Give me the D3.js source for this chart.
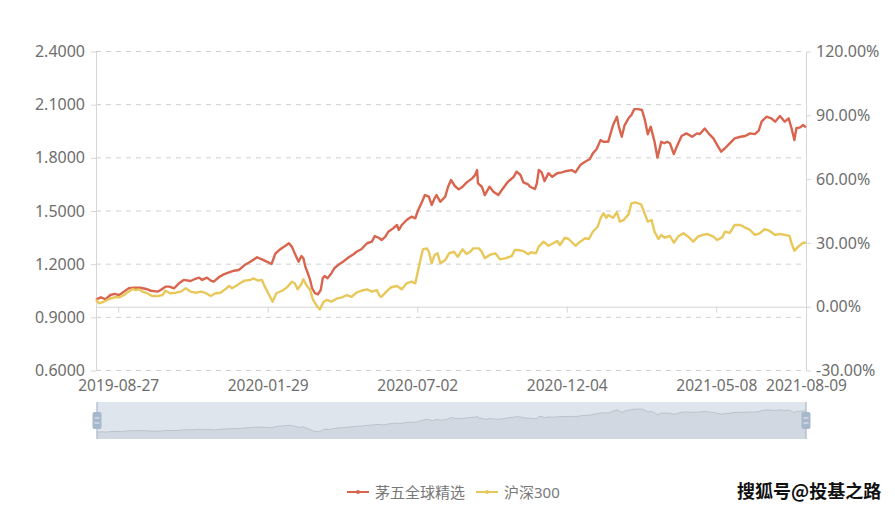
<!DOCTYPE html>
<html><head><meta charset="utf-8">
<script src="https://cdn.jsdelivr.net/npm/d3@7/dist/d3.min.js"></script>
<style>body{margin:0;background:#fff;overflow:hidden}</style>
</head><body>
<svg id="c" width="895" height="509"></svg>
<script>
const seriesNames = ["茅五全球精选", "沪深300"];
const seriesColors = ["#d9654f", "#e8c85a"];
const xDomain = ["2019-08-04", "2021-08-09"];
const xTickLabels = ["2019-08-27", "2020-01-29", "2020-07-02", "2020-12-04", "2021-05-08", "2021-08-09"];
const leftTicks = [0.6, 0.9, 1.2, 1.5, 1.8, 2.1, 2.4];
const rightTicks = [-30, 0, 30, 60, 90, 120];
const watermark = "搜狐号@投基之路";

const fundData = [
["2019-08-04",1.000],["2019-08-09",1.013],["2019-08-14",1.002],["2019-08-19",1.026],["2019-08-23",1.032],["2019-08-28",1.026],
["2019-09-02",1.045],["2019-09-07",1.064],["2019-09-12",1.067],["2019-09-19",1.067],["2019-09-25",1.060],["2019-09-30",1.050],
["2019-10-07",1.045],["2019-10-10",1.054],["2019-10-15",1.073],["2019-10-19",1.073],["2019-10-24",1.064],["2019-10-29",1.092],
["2019-11-03",1.111],["2019-11-10",1.105],["2019-11-14",1.115],["2019-11-19",1.124],["2019-11-22",1.111],["2019-11-27",1.124],
["2019-12-01",1.107],["2019-12-04",1.101],["2019-12-10",1.129],["2019-12-15",1.144],["2019-12-20",1.154],["2019-12-25",1.163],["2019-12-30",1.167],
["2020-01-05",1.195],["2020-01-11",1.214],["2020-01-18",1.239],["2020-01-23",1.227],["2020-01-28",1.214],
["2020-02-02",1.201],["2020-02-06",1.261],["2020-02-11",1.284],["2020-02-16",1.302],["2020-02-20",1.318],["2020-02-23",1.299],["2020-02-26",1.261],
["2020-03-01",1.214],["2020-03-04",1.246],["2020-03-06",1.233],["2020-03-08",1.186],["2020-03-10",1.157],["2020-03-13",1.111],["2020-03-15",1.064],
["2020-03-18",1.036],["2020-03-21",1.030],["2020-03-24",1.054],["2020-03-26",1.120],["2020-03-28",1.133],["2020-03-31",1.120],
["2020-04-04",1.148],["2020-04-07",1.177],["2020-04-11",1.195],["2020-04-16",1.214],["2020-04-22",1.239],["2020-04-27",1.256],["2020-04-30",1.270],
["2020-05-05",1.284],["2020-05-11",1.318],["2020-05-16",1.327],["2020-05-19",1.359],["2020-05-24",1.346],["2020-05-26",1.336],["2020-05-30",1.355],
["2020-06-02",1.383],["2020-06-07",1.402],["2020-06-11",1.421],["2020-06-13",1.393],["2020-06-16",1.421],["2020-06-21",1.449],["2020-06-26",1.468],["2020-06-30",1.459],
["2020-07-03",1.506],["2020-07-07",1.552],["2020-07-10",1.590],["2020-07-14",1.581],["2020-07-17",1.534],["2020-07-20",1.572],["2020-07-22",1.590],["2020-07-26",1.552],["2020-07-31",1.581],
["2020-08-03",1.637],["2020-08-06",1.675],["2020-08-10",1.641],["2020-08-14",1.622],["2020-08-18",1.637],["2020-08-22",1.660],["2020-08-28",1.684],["2020-08-31",1.703],
["2020-09-02",1.731],["2020-09-03",1.656],["2020-09-07",1.637],["2020-09-10",1.590],["2020-09-15",1.637],["2020-09-19",1.609],["2020-09-24",1.590],["2020-09-29",1.628],
["2020-10-04",1.665],["2020-10-10",1.693],["2020-10-13",1.722],["2020-10-17",1.703],["2020-10-20",1.662],["2020-10-25",1.650],["2020-10-27",1.637],
["2020-11-01",1.624],["2020-11-03",1.656],["2020-11-05",1.731],["2020-11-08",1.718],["2020-11-11",1.669],["2020-11-15",1.713],["2020-11-19",1.693],["2020-11-24",1.713],["2020-11-29",1.718],
["2020-12-04",1.726],["2020-12-09",1.731],["2020-12-13",1.718],["2020-12-18",1.759],["2020-12-23",1.778],["2020-12-28",1.793],["2020-12-31",1.825],
["2021-01-04",1.850],["2021-01-08",1.900],["2021-01-11",1.891],["2021-01-16",1.891],["2021-01-21",1.985],["2021-01-25",2.032],["2021-01-27",1.976],["2021-01-30",1.919],
["2021-02-02",1.985],["2021-02-06",2.023],["2021-02-09",2.042],["2021-02-12",2.075],["2021-02-16",2.075],["2021-02-20",2.070],["2021-02-23",2.013],["2021-02-26",1.933],
["2021-03-01",1.976],["2021-03-05",1.891],["2021-03-08",1.801],["2021-03-12",1.891],["2021-03-15",1.882],["2021-03-18",1.891],["2021-03-21",1.882],["2021-03-25",1.821],["2021-03-28",1.863],
["2021-04-02",1.923],["2021-04-07",1.938],["2021-04-13",1.919],["2021-04-18",1.938],["2021-04-21",1.934],["2021-04-26",1.966],["2021-04-30",1.938],
["2021-05-05",1.910],["2021-05-09",1.872],["2021-05-13",1.835],["2021-05-17",1.854],["2021-05-22",1.882],["2021-05-27",1.910],
["2021-06-02",1.919],["2021-06-07",1.923],["2021-06-12",1.938],["2021-06-17",1.934],["2021-06-21",1.953],["2021-06-24",2.004],["2021-06-29",2.032],
["2021-07-04",2.023],["2021-07-08",2.004],["2021-07-13",2.036],["2021-07-18",2.004],["2021-07-22",2.023],["2021-07-25",1.967],["2021-07-28",1.900],["2021-07-30",1.967],
["2021-08-03",1.972],["2021-08-06",1.985],["2021-08-09",1.972]
];

const csiData = [
["2019-08-04",1.000],["2019-08-07",0.979],["2019-08-12",0.988],["2019-08-17",1.002],["2019-08-23",1.013],["2019-08-28",1.013],
["2019-09-02",1.026],["2019-09-07",1.045],["2019-09-11",1.060],["2019-09-14",1.054],["2019-09-18",1.058],["2019-09-21",1.045],["2019-09-26",1.036],
["2019-10-01",1.020],["2019-10-07",1.020],["2019-10-12",1.026],["2019-10-15",1.050],["2019-10-20",1.036],["2019-10-26",1.039],["2019-10-31",1.045],
["2019-11-05",1.064],["2019-11-10",1.045],["2019-11-15",1.039],["2019-11-21",1.045],["2019-11-26",1.036],
["2019-12-01",1.020],["2019-12-06",1.036],["2019-12-11",1.039],["2019-12-16",1.058],["2019-12-20",1.077],["2019-12-23",1.064],["2019-12-27",1.077],["2019-12-30",1.088],
["2020-01-05",1.107],["2020-01-11",1.111],["2020-01-14",1.120],["2020-01-19",1.107],["2020-01-23",1.111],["2020-01-26",1.073],["2020-01-30",1.032],
["2020-02-03",0.988],["2020-02-07",1.036],["2020-02-13",1.050],["2020-02-18",1.069],["2020-02-23",1.101],["2020-02-26",1.092],["2020-02-29",1.058],
["2020-03-04",1.088],["2020-03-06",1.115],["2020-03-09",1.082],["2020-03-13",1.054],["2020-03-16",0.998],["2020-03-20",0.964],["2020-03-23",0.945],["2020-03-27",0.988],["2020-03-30",0.998],
["2020-04-04",0.988],["2020-04-10",1.007],["2020-04-15",1.013],["2020-04-20",1.026],["2020-04-25",1.016],["2020-04-30",1.039],
["2020-05-05",1.050],["2020-05-11",1.058],["2020-05-16",1.045],["2020-05-21",1.054],["2020-05-24",1.020],["2020-05-26",1.016],["2020-05-31",1.045],
["2020-06-05",1.070],["2020-06-11",1.077],["2020-06-16",1.058],["2020-06-21",1.092],["2020-06-26",1.101],["2020-06-30",1.092],
["2020-07-03",1.167],["2020-07-06",1.242],["2020-07-08",1.284],["2020-07-12",1.289],["2020-07-14",1.270],["2020-07-17",1.205],["2020-07-20",1.252],["2020-07-23",1.261],["2020-07-26",1.205],["2020-07-31",1.223],
["2020-08-04",1.261],["2020-08-09",1.270],["2020-08-13",1.242],["2020-08-18",1.284],["2020-08-22",1.257],["2020-08-26",1.270],["2020-08-29",1.289],
["2020-09-04",1.289],["2020-09-07",1.270],["2020-09-10",1.233],["2020-09-15",1.252],["2020-09-21",1.261],["2020-09-26",1.227],
["2020-10-01",1.233],["2020-10-08",1.246],["2020-10-11",1.280],["2020-10-15",1.280],["2020-10-20",1.274],["2020-10-25",1.256],["2020-10-28",1.267],
["2020-11-02",1.261],["2020-11-05",1.299],["2020-11-10",1.327],["2020-11-15",1.304],["2020-11-20",1.318],["2020-11-24",1.331],["2020-11-27",1.308],
["2020-12-02",1.349],["2020-12-06",1.342],["2020-12-13",1.304],["2020-12-18",1.327],["2020-12-23",1.346],["2020-12-27",1.342],["2020-12-31",1.383],
["2021-01-05",1.411],["2021-01-08",1.458],["2021-01-11",1.487],["2021-01-14",1.462],["2021-01-16",1.477],["2021-01-21",1.462],["2021-01-25",1.493],["2021-01-28",1.440],
["2021-02-01",1.449],["2021-02-06",1.481],["2021-02-09",1.543],["2021-02-13",1.549],["2021-02-19",1.538],["2021-02-22",1.496],["2021-02-26",1.440],
["2021-03-02",1.449],["2021-03-05",1.383],["2021-03-09",1.342],["2021-03-12",1.365],["2021-03-15",1.349],["2021-03-21",1.359],["2021-03-25",1.321],["2021-03-30",1.359],
["2021-04-04",1.374],["2021-04-09",1.355],["2021-04-14",1.327],["2021-04-19",1.355],["2021-04-24",1.365],["2021-04-29",1.370],
["2021-05-05",1.355],["2021-05-09",1.336],["2021-05-14",1.351],["2021-05-17",1.383],["2021-05-22",1.377],["2021-05-27",1.421],
["2021-06-02",1.421],["2021-06-07",1.406],["2021-06-12",1.393],["2021-06-17",1.365],["2021-06-22",1.374],["2021-06-27",1.397],
["2021-07-02",1.389],["2021-07-08",1.365],["2021-07-13",1.370],["2021-07-18",1.365],["2021-07-23",1.359],["2021-07-25",1.318],["2021-07-28",1.276],
["2021-08-01",1.299],["2021-08-06",1.321],["2021-08-09",1.321]
];

const parse = d3.timeParse("%Y-%m-%d");
const svg = d3.select("#c");
const FONT = "'Noto Sans', 'Noto Sans CJK SC', sans-serif";
const L = 96, R = 806, T = 51.5, B = 370.5;

const x = d3.scaleTime().domain(xDomain.map(parse)).range([L, R]);
const yL = d3.scaleLinear().domain([0.6, 2.4]).range([B, T]);
const yR = d3.scaleLinear().domain([-30, 120]).range([B, T]);

// grid
svg.append("g").selectAll("line").data(leftTicks).join("line")
  .attr("x1", L).attr("x2", R)
  .attr("y1", d => yL(d)).attr("y2", d => yL(d))
  .attr("stroke", "#cfcfcf").attr("stroke-width", 1).attr("stroke-dasharray", "5,5");

function styleAxis(g, size) {
  g.selectAll(".domain").attr("stroke", "#d6d6d6");
  g.selectAll(".tick line").attr("stroke", "#d6d6d6");
  g.selectAll("text").attr("fill", "#6e6e6e").style("font-size", (size || 16) + "px").style("font-family", FONT);
}

// left axis
svg.append("g").attr("transform", `translate(${L},0)`)
  .call(d3.axisLeft(yL).tickValues(leftTicks).tickFormat(d3.format(".4f")).tickSize(5).tickSizeOuter(0).tickPadding(6))
  .call(g => styleAxis(g, 16));

// right axis
svg.append("g").attr("transform", `translate(${R},0)`)
  .call(d3.axisRight(yR).tickValues(rightTicks).tickFormat(d => d.toFixed(2) + "%").tickSize(5).tickSizeOuter(0).tickPadding(5))
  .call(g => styleAxis(g, 16));

// x axis line on zero with ticks
const xTickDates = xTickLabels.map(parse);
svg.append("g").attr("transform", `translate(0,${yR(0)})`)
  .call(d3.axisBottom(x).tickValues(xTickDates).tickFormat("").tickSize(6).tickSizeOuter(0))
  .call(g => styleAxis(g));

// x labels at bottom
svg.append("g").attr("transform", `translate(0,${B})`)
  .call(d3.axisBottom(x).tickValues(xTickDates).tickFormat(d3.timeFormat("%Y-%m-%d")).tickSize(0).tickPadding(9))
  .call(g => g.select(".domain").remove())
  .call(g => styleAxis(g, 15.5));

// lines
const line = d3.line().x(d => x(parse(d[0]))).y(d => yL(d[1]));
[fundData, csiData].forEach((data, i) => {
  svg.append("path").datum(data).attr("d", line)
    .attr("fill", "none").attr("stroke", seriesColors[i]).attr("stroke-width", 2.4)
    .attr("stroke-linejoin", "round");
});

// data zoom slider
const sT = 402, sB = 439, sL = 97, sR = 806;
svg.append("rect").attr("x", sL).attr("y", sT).attr("width", sR - sL).attr("height", sB - sT)
  .attr("fill", "rgba(167,183,204,0.36)");
const ext = d3.extent(fundData, d => d[1]);
const pad = (ext[1] - ext[0]) * 0.3;
const sx = d3.scaleTime().domain(xDomain.map(parse)).range([sL, sR]);
const sy = d3.scaleLinear().domain([ext[0] - pad, ext[1] + pad]).range([sB, sT]);
svg.append("path").datum(fundData)
  .attr("d", d3.area().x(d => sx(parse(d[0]))).y0(sB).y1(d => sy(d[1])))
  .attr("fill", "rgba(47,69,84,0.08)");
svg.append("path").datum(fundData)
  .attr("d", d3.line().x(d => sx(parse(d[0]))).y(d => sy(d[1])))
  .attr("fill", "none").attr("stroke", "rgba(47,69,84,0.22)").attr("stroke-width", 0.8);
[sL, sR].forEach(hx => {
  svg.append("line").attr("x1", hx).attr("x2", hx).attr("y1", sT).attr("y2", sB)
    .attr("stroke", "#a7b7cc").attr("stroke-width", 1.2);
  svg.append("rect").attr("x", hx - 4.5).attr("y", 412).attr("width", 9).attr("height", 17).attr("rx", 2)
    .attr("fill", "#a7b7cc");
  [418, 423].forEach(ly => svg.append("line").attr("x1", hx - 2.5).attr("x2", hx + 2.5)
    .attr("y1", ly).attr("y2", ly).attr("stroke", "#e8edf4").attr("stroke-width", 1));
});

// legend
const legendX = [347, 476];
seriesNames.forEach((name, i) => {
  const lx = legendX[i];
  svg.append("line").attr("x1", lx).attr("x2", lx + 22).attr("y1", 492).attr("y2", 492)
    .attr("stroke", seriesColors[i]).attr("stroke-width", 2);
  svg.append("circle").attr("cx", lx + 11).attr("cy", 492).attr("r", 2).attr("fill", seriesColors[i]);
  svg.append("text").attr("x", lx + 28).attr("y", 497.5).text(name)
    .attr("fill", "#777").style("font-size", "15px").style("font-family", FONT);
});

// watermark
svg.append("text").attr("x", 737).attr("y", 498).text(watermark)
  .attr("fill", "#111").attr("stroke", "#fff").attr("stroke-width", 2).attr("paint-order", "stroke")
  .style("font-size", "18px").style("font-weight", "bold").style("font-family", "'Noto Sans CJK SC', sans-serif");
</script>
</body></html>
